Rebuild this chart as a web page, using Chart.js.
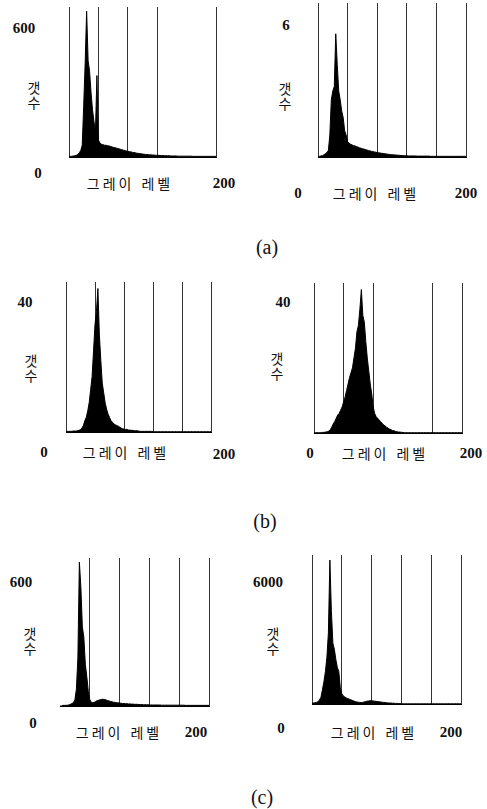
<!DOCTYPE html>
<html lang="ko">
<head>
<meta charset="utf-8">
<script src="https://cdn.jsdelivr.net/npm/chart.js@4.4.1/dist/chart.umd.min.js"></script>
<style>
  body { margin: 0; background: #fff; }
  #page { position: relative; width: 487px; height: 809px; overflow: hidden; background: #fff; }
  .plot { position: absolute; }
  .t { position: absolute; transform: translate(-50%, -50%); white-space: nowrap; color: #111; }
  .num { font-family: "Liberation Serif", serif; font-size: 15px; font-weight: bold; }
  .ko { font-family: "Noto Sans CJK KR", sans-serif; font-size: 14px; letter-spacing: 3px; }
  .cnt { font-family: "Noto Sans CJK KR", sans-serif; font-size: 14px; line-height: 15px; text-align: center; }
  .cap { font-family: "Liberation Serif", serif; font-size: 20px; }
</style>
</head>
<body>
<div id="page"></div>
<script>
// gray level bins (step 2)
const grayLevels = [0,2,4,6,8,10,12,14,16,18,20,22,24,26,28,30,32,34,36,38,40,42,44,46,48,50,
  52,54,56,58,60,62,64,66,68,70,72,74,76,78,80,82,84,86,88,90,92,94,96,98,100,
  102,104,106,108,110,112,114,116,118,120,122,124,126,128,130,132,134,136,138,140,
  142,144,146,148,150,152,154,156,158,160,162,164,166,168,170,172,174,176,178,180,
  182,184,186,188,190,192,194,196,198,200];

// (a) left
const countsA1 = [3,3,3,5,6,8,12,20,30,55,
  240,440,680,450,400,300,220,165,120,380,
  80,65,60,58,55,55,53,52,50,48,
  45,44,42,40,38,36,34,32,30,28,
  27,25,24,22,21,20,18,17,16,15,
  14,13,12,12,11,10,10,9,9,8,
  8,8,7,7,7,6,6,6,6,5,
  5,5,5,5,4,4,4,4,4,4,
  4,4,4,4,3,3,3,3,3,3,
  3,3,3,3,3,3,3,3,3,3,3];

// (a) right
const countsA2 = [0.02,0.03,0.05,0.06,0.1,0.15,0.2,0.3,1.0,2.6,
  3.0,3.2,5.6,4.2,3.0,2.6,2.1,1.8,1.2,1.0,
  0.7,0.62,0.58,0.55,0.52,0.5,0.48,0.45,0.42,0.4,
  0.38,0.36,0.34,0.32,0.3,0.28,0.26,0.25,0.23,0.22,
  0.2,0.19,0.18,0.17,0.16,0.15,0.14,0.13,0.12,0.11,
  0.1,0.1,0.09,0.09,0.08,0.08,0.07,0.07,0.06,0.06,
  0.06,0.05,0.05,0.05,0.05,0.05,0.05,0.04,0.04,0.04,
  0.04,0.04,0.04,0.04,0.04,0.04,0.03,0.03,0.03,0.03,
  0.03,0.03,0.03,0.03,0.03,0.03,0.03,0.03,0.03,0.03,
  0.03,0.03,0.03,0.03,0.03,0.03,0.03,0.03,0.03,0.03,0.03];

// (b) left
const countsB1 = [0.2,0.2,0.2,0.2,0.2,0.3,0.3,0.3,0.4,0.5,
  0.8,1.2,2.0,3.5,4.5,6.5,9,13,17,25,
  33,37,44,30,22,15,12,9,7,5.5,
  4.5,3.5,3,2.5,2.2,2,1.8,1.5,1.2,1.0,
  0.9,0.8,0.8,0.6,0.6,0.5,0.5,0.4,0.4,0.4,
  0.3,0.2,0.2,0.2,0.2,0.2,0.2,0.2,0.2,0.2,
  0.1,0.1,0.1,0.1,0.1,0.1,0.1,0.1,0.1,0.1,
  0.1,0.1,0.1,0.1,0.1,0.1,0.1,0.1,0.1,0.1,
  0.1,0.1,0.1,0.1,0.1,0.1,0.1,0.1,0.1,0.1,
  0.1,0.1,0.1,0.1,0.1,0.1,0.1,0.1,0.1,0.1,0.1];

// (b) right
const countsB2 = [0.1,0.1,0.1,0.1,0.1,0.1,0.2,0.2,0.3,0.4,
  0.6,1.0,1.8,2.8,3.5,4.5,5.5,6.0,7.0,8.0,
  9.5,11,13,15,17,18.5,20,23,26,31,
  33,38,44,36,34,28,23,19,15,12,
  8,6,5,4.5,4,3.5,3,2.5,2.2,1.8,
  1.5,1.2,1.0,0.8,0.7,0.5,0.4,0.3,0.3,0.2,
  0.2,0.1,0.1,0.1,0.1,0.1,0.1,0.1,0.1,0.1,
  0.1,0.1,0.1,0.1,0.1,0.1,0.1,0.1,0.1,0.1,
  0.1,0.1,0.1,0.1,0.1,0.1,0.1,0.1,0.1,0.1,
  0.1,0.1,0.1,0.1,0.1,0.1,0.1,0.1,0.1,0.1,0.1];

// (c) left
const countsC1 = [0,0,3,3,3,4,5,8,12,16,
  30,80,230,690,570,380,330,200,140,70,
  30,18,16,18,22,26,28,30,32,32,
  31,29,26,24,22,20,18,17,16,15,
  14,13,12,12,11,11,10,10,9,9,
  8,8,8,7,7,7,6,6,6,6,
  5,5,5,5,5,5,5,5,4,4,
  4,4,4,4,4,4,4,4,4,4,
  4,4,4,4,3,3,3,3,3,3,
  3,3,3,3,3,3,3,3,3,3,3];

// (c) right
const countsC2 = [30,50,60,80,110,200,330,700,1100,1600,
  2300,3500,7100,4600,3000,2700,2200,1800,1600,800,
  500,400,350,300,270,240,210,180,150,120,
  100,90,80,70,80,100,120,140,150,160,
  160,150,140,130,120,110,100,90,80,70,
  60,55,50,45,40,35,30,30,25,20,
  10,10,10,10,10,10,10,10,10,10,
  10,10,10,10,10,10,10,10,10,10,
  10,10,10,10,10,10,10,10,10,10,
  10,10,10,10,10,10,10,10,10,10,10];

const xTitle = '그레이 레벨';
const yTitle = '갯<br>수';

const panels = [
  {counts: countsA1, yMax: 700, box: [69, 216, 7, 157], hide: [160],
   yTick: '600', yTickAt: [24, 28], cntAt: [34, 95], zeroAt: [38, 173], titleAt: [130, 183], maxAt: [224, 183]},
  {counts: countsA2, yMax: 7, box: [318, 466, 3, 157], hide: [],
   yTick: '6', yTickAt: [286, 25], cntAt: [285, 96], zeroAt: [298, 193], titleAt: [376, 193], maxAt: [466, 193]},
  {counts: countsB1, yMax: 46, box: [66, 211, 282, 432], hide: [],
   yTick: '40', yTickAt: [25, 302], cntAt: [31, 368], zeroAt: [44, 452], titleAt: [126, 452], maxAt: [224, 454]},
  {counts: countsB2, yMax: 46, box: [314, 462, 283, 433], hide: [120],
   yTick: '40', yTickAt: [283, 302], cntAt: [277, 366], zeroAt: [310, 453], titleAt: [385, 453], maxAt: [471, 453]},
  {counts: countsC1, yMax: 710, box: [60, 209, 558, 706], hide: [0],
   yTick: '600', yTickAt: [21, 582], cntAt: [30, 641], zeroAt: [33, 723], titleAt: [119, 732], maxAt: [196, 732]},
  {counts: countsC2, yMax: 7350, box: [312, 461, 555, 704], hide: [],
   yTick: '6000', yTickAt: [268, 582], cntAt: [273, 641], zeroAt: [281, 728], titleAt: [374, 732], maxAt: [451, 732]}
];

const captions = [['(a)', 267, 247], ['(b)', 265, 521], ['(c)', 262, 797]];

const page = document.getElementById('page');

function addText(cls, pos, html) {
  const d = document.createElement('div');
  d.className = 't ' + cls;
  d.style.left = pos[0] + 'px';
  d.style.top = pos[1] + 'px';
  d.innerHTML = html;
  page.appendChild(d);
}

panels.forEach(p => {
  const [l, r, t, b] = p.box;
  const pad = 4;
  const wrap = document.createElement('div');
  wrap.className = 'plot';
  wrap.style.left = (l - pad) + 'px';
  wrap.style.top = (t - pad) + 'px';
  wrap.style.width = (r - l + 2 * pad) + 'px';
  wrap.style.height = (b - t + 2 * pad) + 'px';
  const canvas = document.createElement('canvas');
  wrap.appendChild(canvas);
  page.appendChild(wrap);

  new Chart(canvas, {
    type: 'line',
    data: {
      datasets: [{
        data: grayLevels.map((g, i) => ({x: g, y: p.counts[i]})),
        fill: 'origin',
        borderColor: '#000',
        backgroundColor: '#000',
        borderWidth: 1,
        pointRadius: 0,
        tension: 0
      }]
    },
    options: {
      responsive: true,
      maintainAspectRatio: false,
      animation: false,
      layout: {padding: pad},
      plugins: {legend: {display: false}, tooltip: {enabled: false}},
      scales: {
        x: {
          type: 'linear',
          min: 0,
          max: 200,
          afterFit: s => { s.height = 0; },
          ticks: {display: false, stepSize: 40},
          grid: {
            drawTicks: false,
            lineWidth: 1,
            color: ctx => (ctx.tick && p.hide.includes(ctx.tick.value)) ? 'rgba(0,0,0,0)' : '#333'
          },
          border: {display: true, color: '#000', width: 1}
        },
        y: {display: false, min: 0, max: p.yMax}
      }
    }
  });

  addText('num', p.yTickAt, p.yTick);
  addText('cnt', p.cntAt, yTitle);
  addText('num', p.zeroAt, '0');
  addText('ko', p.titleAt, xTitle);
  addText('num', p.maxAt, '200');
});

captions.forEach(c => addText('cap', [c[1], c[2]], c[0]));
</script>
</body>
</html>
